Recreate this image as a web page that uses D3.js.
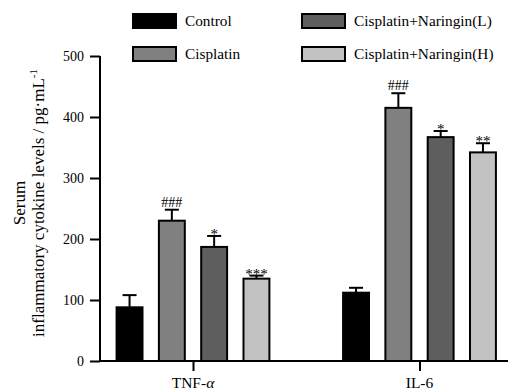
<!DOCTYPE html>
<html>
<head>
<meta charset="utf-8">
<script src="https://cdn.jsdelivr.net/npm/d3@7"></script>
<style>
  body { margin: 0; background: #fff; }
  svg text { font-family: "Liberation Serif", "Times New Roman", serif !important; fill: #000; }
</style>
</head>
<body>
<svg id="chart" width="511" height="390"></svg>
<script>
const groups = ["TNF-α", "IL-6"];
const series = ["Control", "Cisplatin", "Cisplatin+Naringin(L)", "Cisplatin+Naringin(H)"];
const colors = ["#000000", "#808080", "#5e5e5e", "#c2c2c2"];
const tnfValues = [88, 230, 187, 135];
const tnfErrors = [20, 18, 18, 5];
const il6Values = [112, 415, 367, 342];
const il6Errors = [8, 24, 10, 15];
const tnfMarks = ["", "###", "*", "***"];
const il6Marks = ["", "###", "*", "**"];
const yTicks = [0, 100, 200, 300, 400, 500];

const values = [tnfValues, il6Values];
const errors = [tnfErrors, il6Errors];
const marks = [tnfMarks, il6Marks];

const svg = d3.select("#chart");
const y = d3.scaleLinear().domain([0, 500]).range([361, 56]);
const x0 = d3.scalePoint().domain(groups).range([193, 419.5]);
const half = 84.6;

// y axis
const yAxis = svg.append("g").attr("transform", "translate(100,0)")
  .call(d3.axisLeft(y).tickValues(yTicks).tickSize(10).tickSizeOuter(0).tickPadding(6));
yAxis.attr("font-family", null);
yAxis.select(".domain").attr("stroke-width", 2).attr("d", `M0,${y(500)}V${y(0)}`);
yAxis.selectAll(".tick line").attr("stroke-width", 2);
yAxis.selectAll(".tick text").style("font-size", "14px").attr("fill", "#000");

// x axis
const xAxis = svg.append("g").attr("transform", "translate(0,361)")
  .call(d3.axisBottom(x0).tickSize(10).tickPadding(6).tickFormat(() => ""));
xAxis.attr("font-family", null);
xAxis.select(".domain").remove();
xAxis.selectAll(".tick line").attr("stroke-width", 2);
svg.append("line").attr("x1", 99).attr("x2", 508).attr("y1", 361).attr("y2", 361)
  .attr("stroke", "#000").attr("stroke-width", 2);

// x labels
const xl = svg.append("g");
xl.append("text").attr("x", x0("TNF-α")).attr("y", 388).attr("text-anchor", "middle")
  .style("font-size", "15.5px")
  .call(t => { t.append("tspan").text("TNF-"); t.append("tspan").style("font-style", "italic").text("α"); });
xl.append("text").attr("x", x0("IL-6")).attr("y", 388).attr("text-anchor", "middle")
  .style("font-size", "15.5px").text("IL-6");

// bars
groups.forEach((g, gi) => {
  const c = x0(g);
  const x1 = d3.scaleBand().domain(series).range([c - half, c + half]).paddingInner(0.34).paddingOuter(0.17);
  const bw = x1.bandwidth();
  series.forEach((s, si) => {
    const v = values[gi][si], e = errors[gi][si];
    const bx = x1(s), cx = bx + bw / 2;
    svg.append("line").attr("x1", cx).attr("x2", cx).attr("y1", y(v)).attr("y2", y(v + e))
      .attr("stroke", "#000").attr("stroke-width", 2);
    svg.append("line").attr("x1", cx - 7).attr("x2", cx + 7).attr("y1", y(v + e)).attr("y2", y(v + e))
      .attr("stroke", "#000").attr("stroke-width", 2);
    svg.append("rect").attr("x", bx + 1).attr("y", y(v)).attr("width", bw - 2).attr("height", y(0) - y(v))
      .attr("fill", colors[si]).attr("stroke", "#000").attr("stroke-width", 2);
    const m = marks[gi][si];
    if (m) {
      const isHash = m.startsWith("#");
      svg.append("text").attr("x", cx).attr("y", y(v + e) - (isHash ? 3 : -3))
        .attr("text-anchor", "middle").style("font-size", isHash ? "14px" : "15px")
        .text(m);
    }
  });
});

// y title
const yt = svg.append("text").attr("transform", "translate(25,203) rotate(-90)")
  .attr("text-anchor", "middle").style("font-size", "17px");
yt.append("tspan").attr("x", 0).attr("dy", 0).text("Serum");
const l2 = yt.append("tspan").attr("x", 0).attr("dy", 18.5);
l2.append("tspan").text("inflammatory cytokine levels / pg·mL");
l2.append("tspan").attr("dy", -7).style("font-size", "11px").text("-1");

// legend
const legendPos = [[132, 13], [132, 46], [301, 13], [301, 46]];
series.forEach((s, i) => {
  const [lx, ly] = legendPos[i];
  svg.append("rect").attr("x", lx + 1).attr("y", ly + 1).attr("width", 43).attr("height", 14)
    .attr("fill", colors[i]).attr("stroke", "#000").attr("stroke-width", 2);
  svg.append("text").attr("x", lx + 53).attr("y", ly + 13).style("font-size", "15.3px").text(s);
});
</script>
</body>
</html>
